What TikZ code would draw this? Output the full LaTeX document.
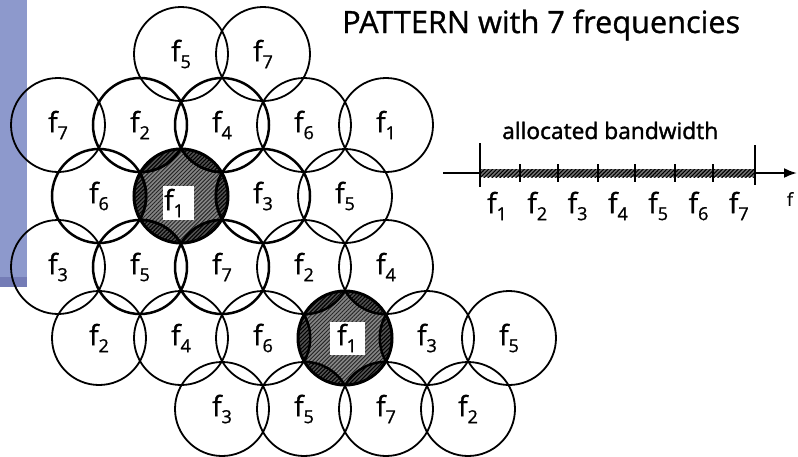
\documentclass[tikz,border=0pt]{standalone}
\usepackage{fontspec}
\setmainfont{Open Sans}
\newfontfamily\heavyfont{Open Sans}[FakeBold=1.6]
\newfontfamily\labfont{Open Sans}[FakeBold=1.0]
\usepackage{graphicx}
\usetikzlibrary{patterns.meta,arrows.meta}

\definecolor{sidebar}{RGB}{141,153,204}
\definecolor{sidebardark}{RGB}{116,124,182}

% frequency label f_n
\newcommand\fq[1]{{\labfont\fontsize{28}{28}\selectfont f}\raisebox{-7pt}{\labfont\fontsize{18}{18}\selectfont #1}}
% cell label, nudged slightly to the left
\newcommand\cf[1]{\fq{#1}\hspace{6pt}}
% inner curved hexagon of a cell, bounded by the six neighbouring circles
\newcommand\hexcore{({47.34*cos(-30)},{47.34*sin(-30)})
  \foreach \k in {0,...,5}{arc[start angle={60*\k+210},end angle={60*\k+150},radius=47.34]} -- cycle}

\begin{document}
\begin{tikzpicture}[x=1pt,y=-1pt,
  cell/.style={circle,draw=black,line width=1.8pt,minimum size=94pt,inner sep=0pt,outer sep=0pt},
  boldcell/.style={cell,line width=2.5pt},
  lens/.style={fill=black!68},
  lenshatch/.style={pattern={Lines[angle=45,distance=2.8pt,line width=1.1pt]},pattern color=black},
  core/.style={fill=black!48},
  corehatch/.style={pattern={Lines[angle=45,distance=2.8pt,line width=0.9pt]},pattern color=black!85},
  tick/.style={line width=1.4pt},
  bigtick/.style={line width=2.4pt},
  lab/.style={inner sep=0pt}]

\useasboundingbox (0,0) rectangle (798,456);
\fill[white] (0,0) rectangle (798,456);
\fill[sidebar] (0,0) rectangle (27,287);
\fill[sidebardark] (0,277) rectangle (27,287);

% centres of the two reuse cells
\coordinate (p1) at (181,196);
\coordinate (p2) at (345,338);

% hatched fill of the reuse cells
\foreach \p in {p1,p2}{
  \fill[lens] (\p) circle[radius=47];
  \fill[lenshatch] (\p) circle[radius=47];
  \fill[core,shift={(\p)}] \hexcore;
  \fill[corehatch,shift={(\p)}] \hexcore;
}
\fill[white] (163,186) rectangle (194,220);
\fill[white] (330,322) rectangle (365,355);

% row 0
\node[cell] (a1) at (181,54) {\cf{5}};
\node[cell] (a2) at (263,54) {\cf{7}};
% row 1
\node[cell] (b1) at (58,125) {\cf{7}};
\node[boldcell] (b2) at (140,125) {\cf{2}};
\node[boldcell] (b3) at (222,125) {\cf{4}};
\node[cell] (b4) at (304,125) {\cf{6}};
\node[cell] (b5) at (386,125) {\cf{1}};
% row 2
\node[boldcell] (c1) at (99,196) {\cf{6}};
\node[cell,label={[lab,xshift=-7pt,yshift=-7pt]center:\fq{1}}] (c2) at (p1) {};
\node[boldcell] (c3) at (263,196) {\cf{3}};
\node[cell] (c4) at (345,196) {\cf{5}};
% row 3
\node[cell] (d1) at (58,267) {\cf{3}};
\node[boldcell] (d2) at (140,267) {\cf{5}};
\node[boldcell] (d3) at (222,267) {\cf{7}};
\node[cell] (d4) at (304,267) {\cf{2}};
\node[cell] (d5) at (386,267) {\cf{4}};
% row 4
\node[cell] (e1) at (99,338) {\cf{2}};
\node[cell] (e2) at (181,338) {\cf{4}};
\node[cell] (e3) at (263,338) {\cf{6}};
\node[cell,label={[lab,xshift=2pt]center:\fq{1}}] (e4) at (p2) {};
\node[cell] (e5) at (427,338) {\cf{3}};
\node[cell] (e6) at (509,338) {\cf{5}};
% row 5
\node[cell] (g1) at (222,409) {\cf{3}};
\node[cell] (g2) at (304,409) {\cf{5}};
\node[cell] (g3) at (386,409) {\cf{7}};
\node[cell] (g4) at (468,409) {\cf{2}};

% heavy outlines of the reuse cells
\foreach \p in {c2,e4}{
  \draw[line width=3pt] (\p.center) circle[radius=47];
  \draw[line width=2.2pt,line join=round,shift={(\p.center)}] \hexcore;
}

% title
\node[lab,anchor=base west] (title) at (342,33)
  {\resizebox{398pt}{!}{\labfont PATTERN with 7 frequencies}};

% allocated bandwidth axis
\node[lab,anchor=base west] (bwtext) at (502,139)
  {\resizebox{216pt}{!}{\heavyfont allocated bandwidth}};
\coordinate (axL) at (443,173);
\coordinate (axR) at (797,173);
\coordinate (bL) at (480,169);
\coordinate (bR) at (755,177);
\draw[line width=2.2pt,-{Latex[length=13pt,width=10pt]}] (axL) -- (axR);
\fill[black!55] (bL) rectangle (bR);
\fill[lenshatch] (bL) rectangle (bR);
\foreach \x in {520,558,598,635,675,713}{
  \draw[tick] (\x,164) -- (\x,182);
}
\draw[bigtick] (480,143) -- (480,187);
\draw[bigtick] (755,145) -- (755,185);
\foreach \k in {1,...,7}{
  \node[lab] (bw\k) at ({497+40.3*(\k-1)},206) {\fq{\k}};
}
\node[lab] (faxis) at (790,199) {\labfont\fontsize{18}{18}\selectfont f};
\end{tikzpicture}
\end{document}
